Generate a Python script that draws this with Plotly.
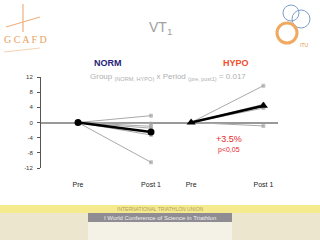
import plotly.graph_objects as go

# ---- data ----
tick_labels = ["Pre", "Post 1", "Pre", "Post 1"]
x_norm = [0.0, 1.0]
x_hypo = [1.55, 2.54]
norm_individual_post = [1.8, -0.3, -1.0, -1.5, -3.3, -10.5]
norm_mean = [0.0, -2.5]
hypo_individual_post = [9.7, 4.8, 4.2, 3.8, -0.9]
hypo_mean = [0.0, 4.4]
y_ticks = [12, 8, 4, 0, -4, -8, -12]

W, H = 320, 240
L, R, T, B = 41, 42, 77, 72
PW, PH = W - L - R, H - T - B

def px(x):
    return (x - L) / PW

def py(y):
    return (H - B - y) / PH

fig = go.Figure()

# individual lines
for v in norm_individual_post:
    fig.add_trace(go.Scatter(x=x_norm, y=[0, v], mode="lines+markers",
                             line=dict(color="#aaaaaa", width=1),
                             marker=dict(symbol="square", size=[0, 3], color="#999999"),
                             hoverinfo="skip", showlegend=False))
for v in hypo_individual_post:
    fig.add_trace(go.Scatter(x=x_hypo, y=[0, v], mode="lines+markers",
                             line=dict(color="#aaaaaa", width=1),
                             marker=dict(symbol="square", size=[0, 3], color="#999999"),
                             hoverinfo="skip", showlegend=False))

# means
fig.add_trace(go.Scatter(x=x_norm, y=norm_mean, mode="lines+markers",
                         line=dict(color="black", width=2.5),
                         marker=dict(symbol="circle", size=7, color="black"),
                         showlegend=False))
fig.add_trace(go.Scatter(x=x_hypo, y=hypo_mean, mode="lines+markers",
                         line=dict(color="black", width=2.5),
                         marker=dict(symbol="triangle-up", size=8, color="black"),
                         showlegend=False))

fig.update_layout(
    width=W, height=H,
    margin=dict(l=L, r=R, t=T, b=B),
    paper_bgcolor="white", plot_bgcolor="white",
    font=dict(family="Liberation Sans, Arial, sans-serif"),
    xaxis=dict(range=[-0.507, 2.74], tickvals=x_norm + x_hypo, ticktext=tick_labels,
               showgrid=False, zeroline=False, showline=False, ticks="",
               ticklabelstandoff=11, tickfont=dict(size=7, color="#222222")),
    yaxis=dict(range=[-12, 12], tickvals=y_ticks, ticktext=[str(t) for t in y_ticks],
               showgrid=False, zeroline=True, zerolinecolor="#999999", zerolinewidth=1.5,
               showline=True, linecolor="#555555", linewidth=1,
               ticks="outside", ticklen=3, tickcolor="#555555", ticklabelstandoff=3,
               tickfont=dict(size=6, color="#333333")),
)

def note(x, y, text, size, color, family=None):
    f = dict(size=size, color=color)
    if family:
        f["family"] = family
    return dict(x=px(x), y=py(y), xref="paper", yref="paper", text=text,
                xanchor="center", yanchor="middle", showarrow=False, font=f)

ann = [
    note(160, 28, "VT<sub>1</sub>", 14, "#a0a0a0"),
    note(108, 63, "<b>NORM</b>", 9, "#26227a"),
    note(236, 63, "<b>HYPO</b>", 9, "#f0502d"),
    note(168, 77, "Group <sub>(NORM, HYPO)</sub> x Period <sub>(pre, post1)</sub> = 0.017", 8, "#b0b0b0"),
    note(229, 139, "+3.5%", 9, "#e8262a"),
    note(229, 150, "p<0,05", 7, "#e8262a"),
    note(25, 40, "G C A F D", 10, "#e8a060", "Liberation Serif"),
    note(304, 45, "ITU", 5, "#e09040"),
    note(160, 209, "INTERNATIONAL TRIATHLON UNION", 5, "#b0a060"),
    note(160, 217.5, "I World Conference of Science in Triathlon", 6, "#f0f0f0"),
]
fig.update_layout(annotations=ann)

shapes = []
# ITU logo circles
shapes.append(dict(type="circle", xref="paper", yref="paper",
                   x0=px(283), x1=px(299), y0=py(21), y1=py(5),
                   line=dict(color="#7f9fc8", width=1)))
shapes.append(dict(type="circle", xref="paper", yref="paper",
                   x0=px(292), x1=px(310), y0=py(28), y1=py(10),
                   line=dict(color="#7f9fc8", width=1)))
shapes.append(dict(type="circle", xref="paper", yref="paper",
                   x0=px(277), x1=px(297), y0=py(43), y1=py(23),
                   line=dict(color="#f0aa60", width=3)))
# GCAFD star-ish lines
shapes.append(dict(type="line", xref="paper", yref="paper",
                   x0=px(23), x1=px(23), y0=py(4), y1=py(32),
                   line=dict(color="#f0b080", width=1.2)))
shapes.append(dict(type="line", xref="paper", yref="paper",
                   x0=px(6), x1=px(40), y0=py(27), y1=py(17),
                   line=dict(color="#f0b080", width=1.2)))
shapes.append(dict(type="line", xref="paper", yref="paper",
                   x0=px(4), x1=px(40), y0=py(52), y1=py(48),
                   line=dict(color="#f0c8a0", width=0.8)))
# banner
shapes.append(dict(type="rect", xref="paper", yref="paper", layer="below",
                   x0=px(0), x1=px(320), y0=py(213), y1=py(205),
                   line=dict(width=0), fillcolor="#f6ea8e"))
shapes.append(dict(type="rect", xref="paper", yref="paper", layer="below",
                   x0=px(0), x1=px(320), y0=py(240), y1=py(213),
                   line=dict(width=0), fillcolor="#ece6cf"))
shapes.append(dict(type="rect", xref="paper", yref="paper", layer="below",
                   x0=px(88), x1=px(232), y0=py(240), y1=py(213),
                   line=dict(width=0), fillcolor="#f4f1e6"))
shapes.append(dict(type="rect", xref="paper", yref="paper", layer="below",
                   x0=px(88), x1=px(232), y0=py(222), y1=py(213),
                   line=dict(width=0), fillcolor="#8f8c93"))
fig.update_layout(shapes=shapes)

fig.write_html("out.html")
